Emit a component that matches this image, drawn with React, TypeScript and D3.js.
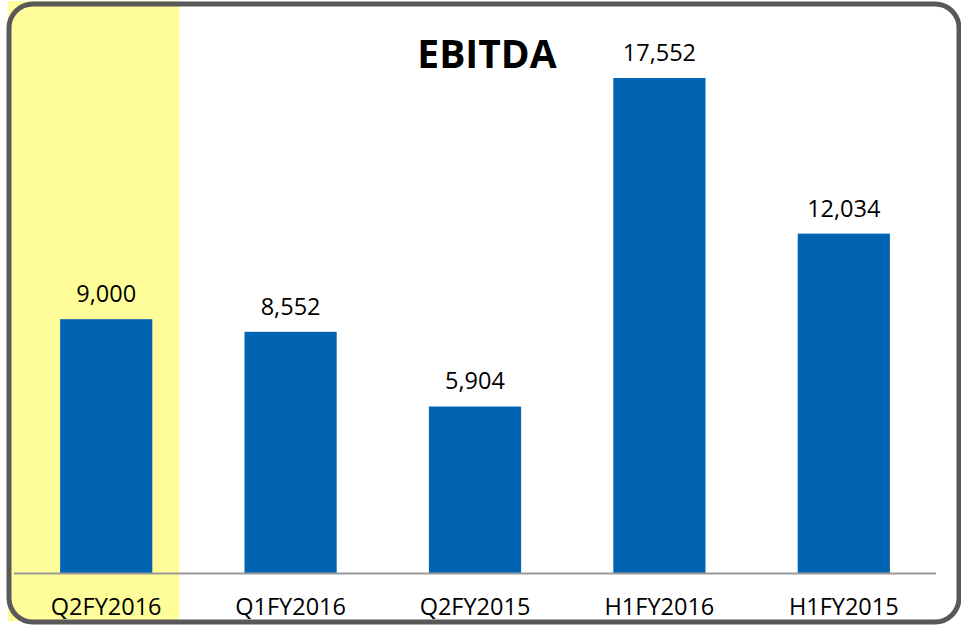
import React, { useRef, useEffect } from 'react';
import * as d3 from 'd3';

const categories = ['Q2FY2016', 'Q1FY2016', 'Q2FY2015', 'H1FY2016', 'H1FY2015'];
const values = [9000, 8552, 5904, 17552, 12034];
const highlighted = ['Q2FY2016'];

const width = 961;
const height = 626;

export default function App() {
  const svgRef = useRef<SVGSVGElement>(null);

  useEffect(() => {
    document.body.style.margin = '0';
    const svg = d3.select(svgRef.current);
    svg.selectAll('*').remove();
    svg.attr('width', width).attr('height', height);

    const font = '"Open Sans", sans-serif';
    const baseline = 573;

    const x = d3.scaleBand<string>()
      .domain(categories)
      .range([14, 936])
      .paddingInner(0.5)
      .paddingOuter(0.25);

    const y = d3.scaleLinear()
      .domain([0, 17552])
      .range([baseline, 78]);

    // highlight band behind the first category
    svg.selectAll('.hl')
      .data(highlighted)
      .enter()
      .append('path')
      .attr('class', 'hl')
      .attr('fill', '#FFFD99')
      .attr('d', d => {
        const x0 = 8;
        const x1 = (x(d) as number) + x.bandwidth() / 2 + 73;
        const r = 6;
        return `M${x0},1 H${x1} V${621 - r} Q${x1},621 ${x1 - r},621 H${x0} Z`;
      });

    // bars
    svg.selectAll('.bar')
      .data(categories)
      .enter()
      .append('rect')
      .attr('class', 'bar')
      .attr('x', d => x(d) as number)
      .attr('width', x.bandwidth())
      .attr('y', (d, i) => y(values[i]))
      .attr('height', (d, i) => baseline - y(values[i]))
      .attr('fill', '#0064B2');

    // axis line
    svg.append('line')
      .attr('x1', 14)
      .attr('x2', 936)
      .attr('y1', baseline + 0.5)
      .attr('y2', baseline + 0.5)
      .attr('stroke', '#999999')
      .attr('stroke-width', 2);

    // value labels
    svg.selectAll('.val')
      .data(categories)
      .enter()
      .append('text')
      .attr('class', 'val')
      .attr('x', d => (x(d) as number) + x.bandwidth() / 2)
      .attr('y', (d, i) => y(values[i]) - 17)
      .attr('text-anchor', 'middle')
      .attr('font-family', font)
      .attr('font-size', 23.5)
      .attr('fill', '#000')
      .text((d, i) => d3.format(',')(values[i]));

    // category labels
    svg.selectAll('.cat')
      .data(categories)
      .enter()
      .append('text')
      .attr('class', 'cat')
      .attr('x', d => (x(d) as number) + x.bandwidth() / 2)
      .attr('y', 615)
      .attr('text-anchor', 'middle')
      .attr('font-family', font)
      .attr('font-size', 23.5)
      .attr('fill', '#000')
      .text(d => d);

    // title
    svg.append('text')
      .attr('x', 487)
      .attr('y', 68)
      .attr('text-anchor', 'middle')
      .attr('font-family', font)
      .attr('font-weight', 'bold')
      .attr('font-size', 39)
      .attr('fill', '#000')
      .text('EBITDA');

    // rounded frame
    svg.append('rect')
      .attr('x', 9)
      .attr('y', 4)
      .attr('width', 950)
      .attr('height', 618)
      .attr('rx', 24)
      .attr('fill', 'none')
      .attr('stroke', '#595959')
      .attr('stroke-width', 5);
  }, []);

  return (
    <div>
      <svg ref={svgRef} style={{ display: 'block' }} />
    </div>
  );
}
